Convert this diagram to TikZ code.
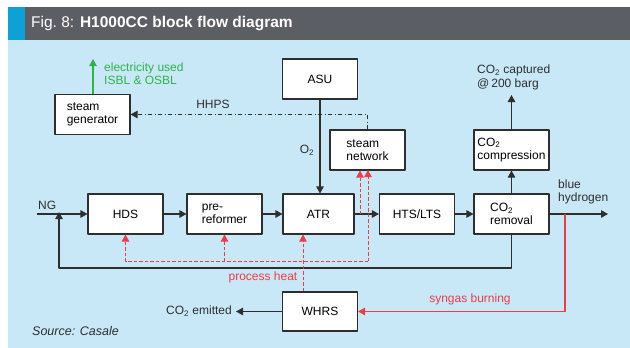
\documentclass[tikz,border=0pt]{standalone}
\usepackage{fontspec}
\setmainfont{Liberation Sans}
\usetikzlibrary{arrows.meta,positioning}
\definecolor{bgblue}{HTML}{C8E8F7}
\definecolor{bargrey}{HTML}{5B5F63}
\definecolor{stripe}{HTML}{0EA1D6}
\definecolor{lineclr}{HTML}{2E2E2E}
\definecolor{heatred}{HTML}{EC3D47}
\definecolor{elgreen}{HTML}{2EB34A}
\newcommand\cotwo{CO\textsubscript{2}}
\begin{document}
\begin{tikzpicture}[x=1pt,y=-1pt,>={Triangle[length=7pt,width=7.5pt]},line join=round,
	font=\fontsize{12}{13.5}\selectfont,
	blk/.style={draw=lineclr,fill=white,line width=1.1pt,minimum width=75pt,minimum height=40pt,align=left,inner sep=0pt},
	flow/.style={draw=lineclr,line width=1.1pt,->},
	heat/.style={draw=heatred,line width=1pt,dash pattern=on 3.5pt off 2pt,->},
	lbl/.style={text=lineclr,align=left,inner sep=0pt}]
	\useasboundingbox (0,0) rectangle (630,348);
	% frame and title bar
	\fill[bgblue] (8,40) rectangle (630,348);
	\fill[bargrey] (8,7) rectangle (630,40);
	\fill[stripe] (8,7) rectangle (25,40);
	\node[anchor=west,text=white,inner sep=0pt,font=\fontsize{15.5}{17}\selectfont] (title) at (31,23.5) {Fig.~8: \textbf{H1000CC block flow diagram}};
	% blocks
	\node[blk] (sg) at (92.5,114.5) {steam\\generator};
	\node[blk] (asu) at (320,79) {ASU};
	\node[blk] (sn) at (367.5,150) {steam\\network};
	\node[blk] (comp) at (511.5,150) {\cotwo\\compression};
	\node[blk] (hds) at (125.5,214) {HDS};
	\node[blk] (pre) at (224.5,214) {pre-\\reformer};
	\node[blk,minimum width=71pt] (atr) at (318.5,214) {ATR};
	\node[blk] (hts) at (417,214) {HTS/LTS};
	\node[blk] (rem) at (511.5,214) {\cotwo\\removal};
	\node[blk,minimum height=39pt] (whrs) at (320,311.5) {WHRS};
	% free ends
	\coordinate (ng) at (37,214);
	\coordinate (h2) at (608,214);
	\coordinate (capt) at (511.5,95);
	\coordinate (elec) at (93,59);
	\coordinate (emit) at (236,311.5);
	\coordinate (rec) at (59,214);
	\coordinate (split) at (565,214);
	\coordinate (tap) at (360,214);
	% labels
	\node[lbl,anchor=south west] (nglbl) at (38,210) {NG};
	\node[lbl,anchor=west,text=elgreen] (eleclbl) at (104,73.5) {electricity used\\ISBL \& OSBL};
	\node[lbl] (hhps) at (213,104) {HHPS};
	\node[lbl] (o2) at (307,150) {O\textsubscript{2}};
	\node[lbl,anchor=west] (captlbl) at (477,77.5) {\cotwo{} captured\\@\,200 barg};
	\node[lbl,anchor=west] (h2lbl) at (558,192) {blue\\hydrogen};
	\node[lbl,text=heatred] (phlbl) at (263,277) {process heat};
	\node[lbl,text=heatred] (sglbl) at (470,299) {syngas burning};
	\node[lbl,anchor=east] (emitlbl) at (232,311.5) {\cotwo{} emitted};
	\node[lbl,anchor=west,font=\fontsize{12.5}{14}\selectfont\itshape] (src) at (32,331) {Source: Casale};
	% main train
	\draw[flow] (ng) -- (hds);
	\draw[flow] (hds) -- (pre);
	\draw[flow] (pre) -- (atr);
	\draw[flow] (atr) -- (hts);
	\draw[flow] (hts) -- (rem);
	\draw[flow] (rem) -- (h2);
	\draw[flow] (asu.south) -- (asu.south |- atr.north);
	\draw[flow] (rem) -- (comp);
	\draw[flow] (comp) -- (capt);
	\draw[flow] (rem.south) |- (59,268) -- ([yshift=2pt]rec);
	\draw[flow] (whrs) -- (emit);
	\draw[->,draw=elgreen,line width=1.1pt] (sg.north -| elec) -- (elec);
	\draw[->,draw=lineclr,line width=1pt,dash pattern=on 4pt off 2.5pt on 1pt off 2.5pt] (sn.north) |- (sg.east);
	% heat
	\draw[heat] (368,261) -- (hds.south |- 0,261) -- (hds.south);
	\draw[heat] (pre.south |- 0,261) -- (pre.south);
	\draw[heat] (368,261) -- (368,170);
	\draw[heat] (tap) -- (tap |- sn.south);
	\draw[heat] ([xshift=-17pt]whrs.north) -- ([xshift=-17pt]whrs.north |- atr.south);
	\draw[->,draw=heatred,line width=1.1pt] (split) |- (whrs.east);
\end{tikzpicture}
\end{document}
